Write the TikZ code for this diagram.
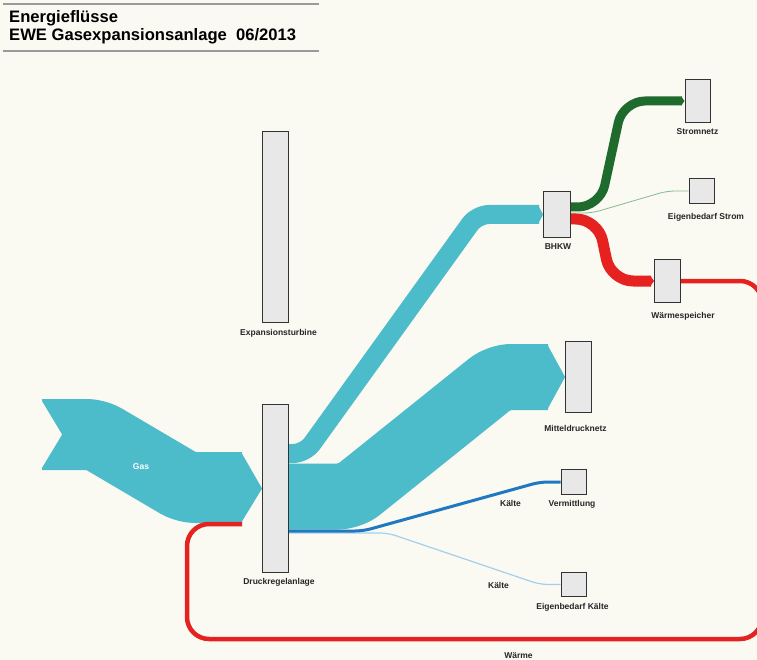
\documentclass[tikz,border=0pt]{standalone}
\usepackage{fontspec}
\setmainfont{Liberation Sans}
\usepackage{tikz}
\usetikzlibrary{calc,backgrounds}
\definecolor{bgcream}{HTML}{FAF9F2}
\definecolor{gasblue}{HTML}{4DBCCA}
\definecolor{boxgray}{HTML}{E8E8E8}
\definecolor{coldblue}{HTML}{1F78C1}
\definecolor{coldlight}{HTML}{A3D0EC}
\definecolor{powergreen}{HTML}{1F6B2E}
\definecolor{powerlight}{HTML}{86BB90}
\definecolor{heatred}{HTML}{E5221F}
\definecolor{rulegray}{HTML}{9A9A9A}

\tikzset{
  anlage/.style={draw=black!80,fill=boxgray,line width=1.4pt,inner sep=0pt,minimum width=25.5pt},
  lbl/.style={font=\bfseries\fontsize{8.5}{10}\selectfont,text=black!85,inner sep=0pt},
  band/.style={line cap=butt,line join=round}
}

\begin{document}
\begin{tikzpicture}[x=1pt,y=-1pt]
  \useasboundingbox (0,0) rectangle (757,660);
  % title
  \draw[rulegray,line width=1.3pt] (3,4) -- (319,4);
  \draw[rulegray,line width=1.3pt] (3,51) -- (319,51);
  \node[anchor=base west,inner sep=0pt,font=\bfseries\fontsize{16.6}{18}\selectfont] (titel1) at (9,22.5) {Energieflüsse};
  \node[anchor=base west,inner sep=0pt,font=\bfseries\fontsize{16.6}{18}\selectfont] (titel2) at (9,41) {EWE Gasexpansionsanlage~~06/2013};

  % boxes
  \node[anlage,minimum height=190.5pt] (turbine) at (275.5,227) {};
  \node[anlage,minimum height=167.5pt] (drk) at (275.5,488.5) {};
  \node[anlage,minimum width=26.5pt,minimum height=45.5pt] (bhkw) at (557,214.5) {};
  \node[anlage,minimum height=42.5pt] (strom) at (698,101) {};
  \node[anlage,minimum height=24.5pt] (ebs) at (702,191) {};
  \node[anlage,minimum height=42.5pt] (wsp) at (667.5,281) {};
  \node[anlage,minimum height=70.5pt] (mdn) at (578.5,377) {};
  \node[anlage,minimum height=24.5pt] (verm) at (574,482) {};
  \node[anlage,minimum height=24pt] (ebk) at (574,584.5) {};

  % labels
  \node[lbl] (lturbine) at (278.5,333) {Expansionsturbine};
  \node[lbl] (ldrk) at (279,582) {Druckregelanlage};
  \node[lbl] (lbhkw) at (558,247) {BHKW};
  \node[lbl] (lstrom) at (697.5,132) {Stromnetz};
  \node[lbl] (lebs) at (706,217) {Eigenbedarf Strom};
  \node[lbl] (lwsp) at (683,316) {Wärmespeicher};
  \node[lbl] (lmdn) at (575.5,428) {Mitteldrucknetz};
  \node[lbl] (lverm) at (572,504) {Vermittlung};
  \node[lbl] (lebk) at (572.5,607) {Eigenbedarf Kälte};
  \node[lbl] (lkalt1) at (510.5,503.5) {Kälte};
  \node[lbl] (lkalt2) at (498.5,585) {Kälte};
  \node[lbl] (lwarm) at (518.5,655.5) {Wärme};
  \node[lbl,text=white] (lgas) at (141,467) {Gas};

  \begin{scope}[on background layer]
    \fill[bgcream] (0,0) rectangle (757,660);
    % Gas
    \draw[band,gasblue,line width=71pt,rounded corners=9pt] (42,434.5) -- (96,434.5) -- (186,487.5) -- (242,487.5);
    \fill[bgcream] (40,398) -- (62,434.5) -- (40,471) -- cycle;
    \fill[gasblue] (241,452) -- (drk.west) -- (241,523) -- cycle;
    % Druckregelanlage -> BHKW
    \draw[band,gasblue,line width=19pt,rounded corners=12pt] ($(drk.north east)+(0,49.5)$) -- (305,453.5) -- (477,214.5) -- (539,214.5);
    \fill[gasblue] (538,205) -- (bhkw.west) -- (538,224) -- cycle;
    % Druckregelanlage -> Mitteldrucknetz
    \draw[band,gasblue,line width=66pt,rounded corners=12pt] ($(drk.north east)+(0,92.5)$) -- (350,496.5) -- (499,377) -- (548,377);
    \fill[gasblue] (547,344) -- (mdn.west) -- (547,410) -- cycle;
    % Kaelte
    \draw[coldlight,line width=1.2pt,rounded corners=8pt] ($(drk.north east)+(0,129)$) -- (388,533) -- (540,584.5) -- (ebk.west);
    \draw[coldblue,line width=3pt,rounded corners=8pt] ($(drk.north east)+(0,127)$) -- (363,531) -- (540,482) -- (verm.west);
    % BHKW -> Strom
    \draw[powerlight,line width=0.8pt,rounded corners=8pt] ($(bhkw.east)+(0,-1.5)$) -- (592,213) -- (667,191) -- (ebs.west);
    \draw[band,powergreen,line width=9pt,rounded corners=22pt] ($(bhkw.east)+(0,-7.5)$) -- (600,207) -- (623,101) -- (682,101);
    \fill[powergreen] (681,96.5) -- (strom.west) -- (681,105.5) -- cycle;
    % BHKW -> Waermespeicher -> Waerme
    \draw[band,heatred,line width=11pt,rounded corners=22pt] ($(bhkw.east)+(0,4.5)$) -- (598,219) -- (611,281) -- (651,281);
    \fill[heatred] (650,275.5) -- (wsp.west) -- (650,286.5) -- cycle;
    \draw[heatred,line width=4.5pt,rounded corners=22pt] (wsp.east) -- (762,281) -- (762,639) -- (187,639) -- (187,524) -- (242,524);
  \end{scope}
\end{tikzpicture}
\end{document}
